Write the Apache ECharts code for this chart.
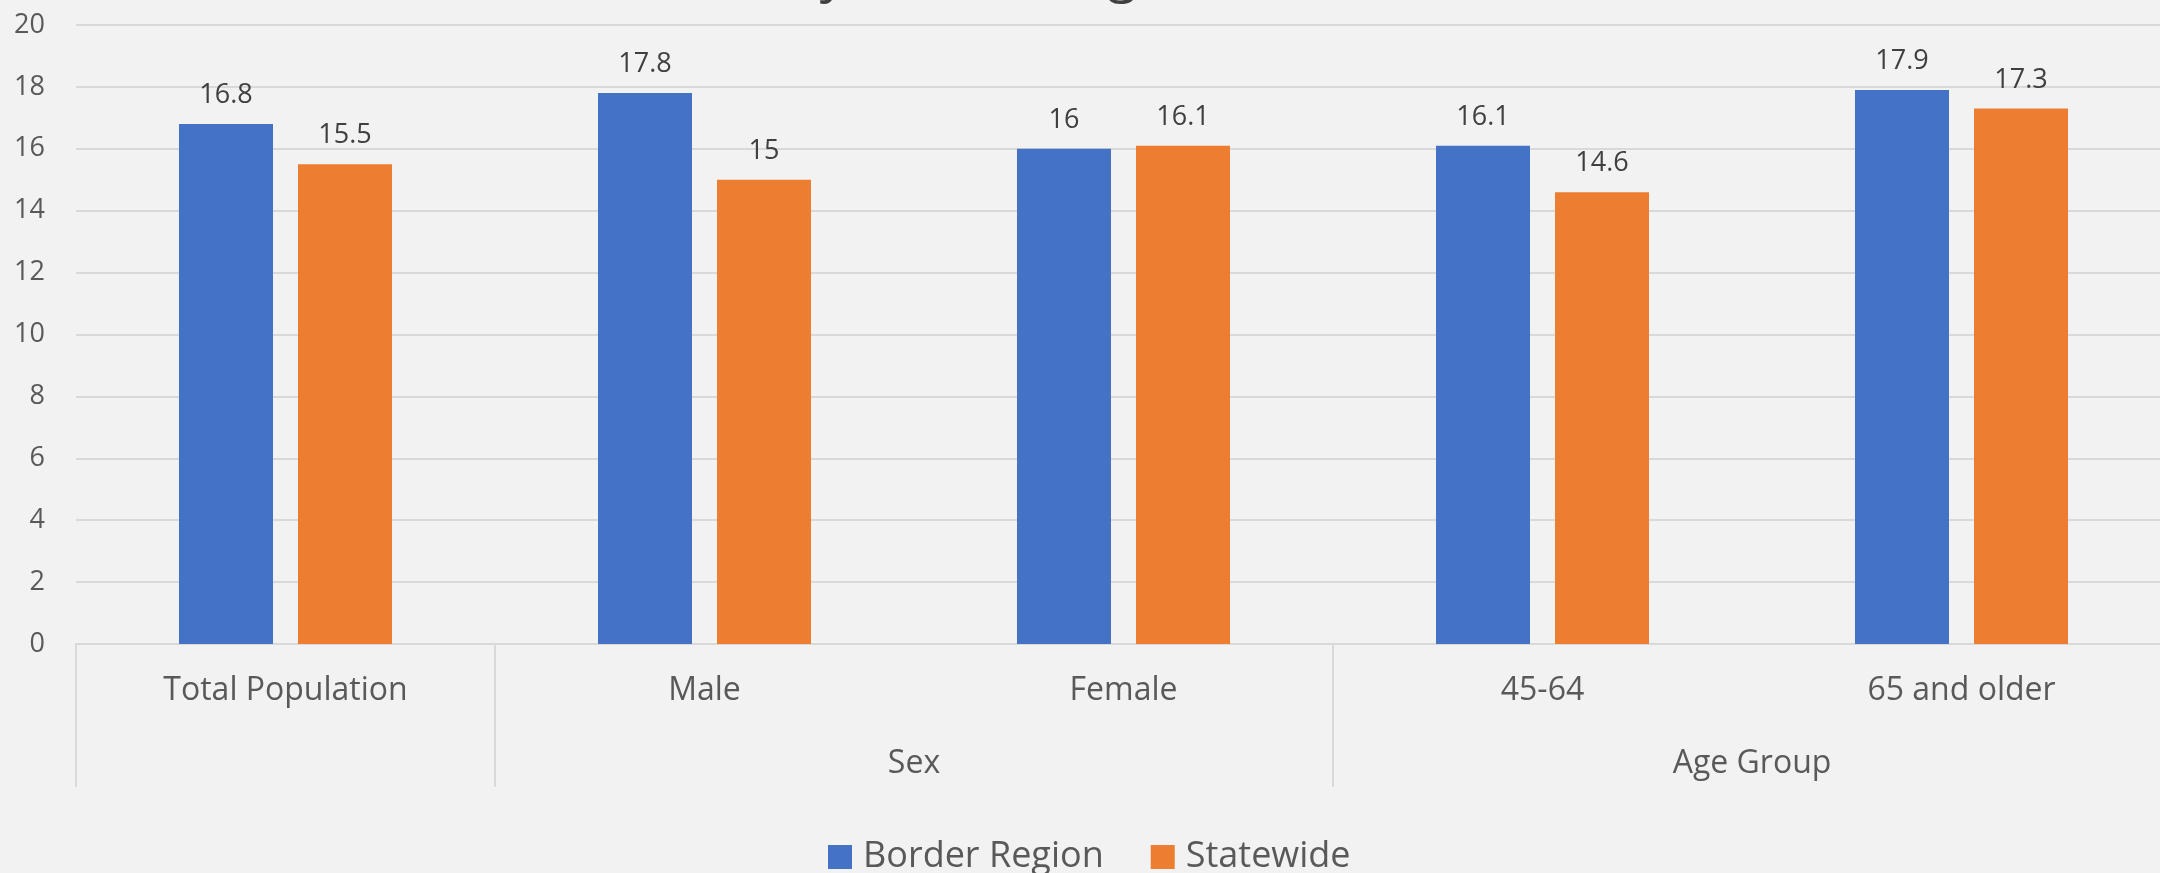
<!DOCTYPE html>
<html>
<head>
<meta charset="utf-8">
<title>Border Region vs Statewide</title>
<script src="https://cdn.jsdelivr.net/npm/echarts@6/dist/echarts.min.js"></script>
<style>
	html,body{margin:0;padding:0;background:#f2f2f2;}
	#main{width:2160px;height:873px;}
</style>
</head>
<body>
<div id="main"></div>
<script>
// data
var titleText = 'by Sex and Age, 2016-2020';
var categories = ['Total Population', 'Male', 'Female', '45-64', '65 and older'];
var groupNames = ['', 'Sex', 'Age Group'];
var groupSizes = [1, 2, 2];
var borderRegion = [16.8, 17.8, 16, 16.1, 17.9];
var statewide = [15.5, 15, 16.1, 14.6, 17.3];
var yMin = 0, yMax = 20, yStep = 2;

var chartindex = {};

// 分组的边界和中心
chartindex.groups = function(){
	var bounds = [0], centers = [], pos = 0;
	for (var i = 0; i < groupSizes.length; i++) {
		centers.push(pos + groupSizes[i] / 2);
		pos += groupSizes[i];
		bounds.push(pos);
	}
	return {bounds: bounds, centers: centers};
}

chartindex.init = function(){
	var myChart = echarts.init(document.getElementById('main'));
	var g = chartindex.groups();
	var font = '"Open Sans", "Noto Sans", sans-serif';
	var option = {
		backgroundColor: '#f2f2f2',
		animation: false,
		title: {
			text: titleText,
			left: 1118,
			top: -56,
			textAlign: 'center',
			textStyle: {
				color: '#404040',
				fontFamily: font,
				fontWeight: 'normal',
				fontSize: 54
			}
		},
		grid: {
			left: 76,
			right: -11,
			top: 25,
			bottom: 229,
			containLabel: false,
			outerBoundsMode: 'none'
		},
		legend: {
			left: 823,
			top: 834,
			itemWidth: 24,
			itemHeight: 24,
			itemGap: 47,
			icon: 'rect',
			textStyle: {
				color: '#595959',
				fontFamily: font,
				fontSize: 36,
				lineHeight: 36,
				padding: [0, 0, 0, 6]
			},
			data: ['Border Region', 'Statewide']
		},
		xAxis: [{
			type: 'category',
			data: categories,
			axisTick: {show: false},
			axisLine: {
				lineStyle: {color: '#d9d9d9', width: 2}
			},
			axisLabel: {
				color: '#595959',
				fontFamily: font,
				fontSize: 32,
				margin: 31,
				interval: 0
			}
		}, {
			// 第二层分组标签
			type: 'value',
			position: 'bottom',
			min: 0,
			max: categories.length,
			splitLine: {show: false},
			axisLine: {show: false},
			axisTick: {
				show: true,
				customValues: g.bounds,
				length: 143,
				lineStyle: {color: '#d9d9d9', width: 2}
			},
			axisLabel: {
				show: true,
				customValues: g.centers,
				color: '#595959',
				fontFamily: font,
				fontSize: 32,
				margin: 104,
				formatter: function(v){
					var i = g.centers.indexOf(v);
					return i >= 0 ? groupNames[i] : '';
				}
			}
		}],
		yAxis: {
			type: 'value',
			min: yMin,
			max: yMax,
			interval: yStep,
			axisLine: {show: false},
			axisTick: {show: false},
			axisLabel: {
				color: '#595959',
				fontFamily: font,
				fontSize: 27,
				margin: 31
			},
			splitLine: {
				lineStyle: {color: '#d9d9d9', width: 2}
			}
		},
		series: [{
			name: 'Border Region',
			type: 'bar',
			data: borderRegion,
			barWidth: 94,
			barGap: '26.6%',
			itemStyle: {color: '#4472c4'},
			label: {
				show: true,
				position: 'top',
				distance: 15,
				color: '#404040',
				fontFamily: font,
				fontSize: 27
			}
		}, {
			name: 'Statewide',
			type: 'bar',
			data: statewide,
			barWidth: 94,
			barGap: '26.6%',
			itemStyle: {color: '#ed7d31'},
			label: {
				show: true,
				position: 'top',
				distance: 15,
				color: '#404040',
				fontFamily: font,
				fontSize: 27
			}
		}]
	};
	myChart.setOption(option);
}

chartindex.init();
</script>
</body>
</html>
